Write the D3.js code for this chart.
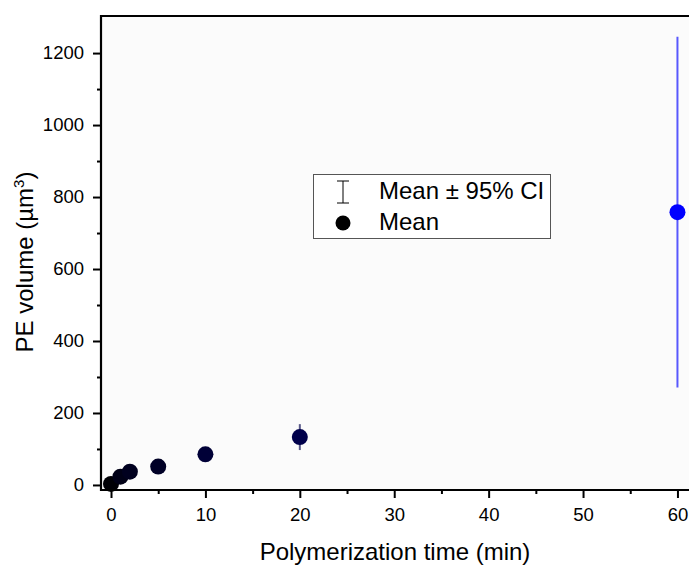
<!DOCTYPE html>
<html><head><meta charset="utf-8">
<script src="https://cdn.jsdelivr.net/npm/d3@7"></script>
<style>
html,body{margin:0;padding:0;background:#fff;overflow:hidden;}
text{font-family:Arial,"Liberation Sans",sans-serif;fill:#000;}
</style></head>
<body>
<svg id="chart" width="689" height="566"></svg>
<script>
// Data
const times = [0, 1, 2, 5, 10, 20, 60];
const means = [3, 23, 37, 51, 85, 133, 758];
const ciLow = [0, 17, 30, 44, 77, 97, 271];
const ciHigh = [6, 29, 44, 58, 93, 169, 1245];
const xMajorTicks = [0, 10, 20, 30, 40, 50, 60];
const xMinorTicks = [5, 15, 25, 35, 45, 55];
const yMajorTicks = [0, 200, 400, 600, 800, 1000, 1200];
const yMinorTicks = [100, 300, 500, 700, 900, 1100];
const legendLabels = ["Mean \u00B1 95% CI", "Mean"];
const xTitle = "Polymerization time (min)";
const yTitle = "PE volume (\u00B5m";

const svg = d3.select("#chart");
const L = 101, T = 16, B = 490, R = 702;

const x = d3.scaleLinear().domain([-1.06, 62.6]).range([L, R]);
const y = d3.scaleLinear().domain([-14, 1303]).range([B, T]);
const color = d3.scalePow().exponent(0.7).domain([0, 760]).range(["#000000", "#0000ff"]).interpolate(d3.interpolateRgb);

// plot background
svg.append("rect").attr("x", L).attr("y", T).attr("width", R - L).attr("height", B - T).attr("fill", "#fbfbfb");

const data = times.map((t, i) => ({t, m: means[i], lo: ciLow[i], hi: ciHigh[i]}));

// error bars
svg.append("g").selectAll("line").data(data).join("line")
  .attr("x1", d => x(d.t)).attr("x2", d => x(d.t))
  .attr("y1", d => y(d.lo)).attr("y2", d => y(d.hi))
  .attr("stroke", d => color(d.m)).attr("stroke-width", 2).attr("stroke-opacity", 0.65);

// points
svg.append("g").selectAll("circle").data(data).join("circle")
  .attr("cx", d => x(d.t)).attr("cy", d => y(d.m)).attr("r", 8)
  .attr("fill", d => color(d.m));

// axes
const fontTick = "18.5px";
svg.append("g").attr("transform", `translate(0,${B})`)
  .call(d3.axisBottom(x).tickValues(xMajorTicks).tickSize(8).tickPadding(10).tickFormat(d3.format("d")));
svg.append("g").attr("transform", `translate(0,${B})`)
  .call(d3.axisBottom(x).tickValues(xMinorTicks).tickSize(4).tickFormat(""));
svg.append("g").attr("transform", `translate(${L},0)`)
  .call(d3.axisLeft(y).tickValues(yMajorTicks).tickSize(8).tickPadding(9).tickFormat(d3.format("d")));
svg.append("g").attr("transform", `translate(${L},0)`)
  .call(d3.axisLeft(y).tickValues(yMinorTicks).tickSize(4).tickFormat(""));

svg.selectAll(".domain").remove();
svg.selectAll(".tick line").attr("stroke", "#000").attr("stroke-width", 2);
svg.selectAll(".tick text").attr("font-size", fontTick).attr("font-family", "Arial, 'Liberation Sans', sans-serif").attr("fill", "#000");

// frame lines
svg.append("line").attr("x1", L).attr("x2", R).attr("y1", B).attr("y2", B).attr("stroke", "#000").attr("stroke-width", 2.2);
svg.append("line").attr("x1", L).attr("x2", L).attr("y1", T - 1).attr("y2", B + 1).attr("stroke", "#000").attr("stroke-width", 2.2);
svg.append("line").attr("x1", L - 1).attr("x2", R).attr("y1", T).attr("y2", T).attr("stroke", "#000").attr("stroke-width", 2.2);

// titles
svg.append("text").attr("x", 395).attr("y", 560).attr("text-anchor", "middle").attr("font-size", "24px").text(xTitle);
const yt = svg.append("text").attr("transform", "translate(33,262) rotate(-90)").attr("text-anchor", "middle").attr("font-size", "24px");
yt.append("tspan").text(yTitle);
yt.append("tspan").attr("font-size", "15px").attr("dy", "-9").text("3");
yt.append("tspan").attr("dy", "9").text(")");

// legend
const lg = svg.append("g");
lg.append("rect").attr("x", 313.5).attr("y", 174.5).attr("width", 237).attr("height", 64)
  .attr("fill", "#fff").attr("stroke", "#555").attr("stroke-width", 1);
const lx = 343;
lg.append("line").attr("x1", lx).attr("x2", lx).attr("y1", 181).attr("y2", 203).attr("stroke", "#000").attr("stroke-width", 1);
lg.append("line").attr("x1", lx - 6).attr("x2", lx + 6).attr("y1", 181).attr("y2", 181).attr("stroke", "#000").attr("stroke-width", 1);
lg.append("line").attr("x1", lx - 6).attr("x2", lx + 6).attr("y1", 203).attr("y2", 203).attr("stroke", "#000").attr("stroke-width", 1);
lg.append("circle").attr("cx", lx).attr("cy", 223).attr("r", 7.5).attr("fill", "#000");
lg.selectAll("text.lab").data(legendLabels).join("text").attr("class", "lab")
  .attr("x", 379).attr("y", (d, i) => 199 + i * 31).attr("font-size", "24px").text(d => d);
</script>
</body></html>
